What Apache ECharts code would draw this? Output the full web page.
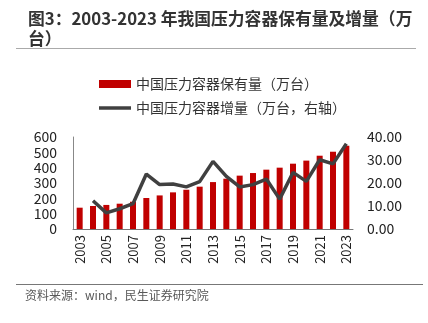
<!DOCTYPE html>
<html><head><meta charset="utf-8">
<script src="https://cdn.jsdelivr.net/npm/echarts@6/dist/echarts.min.js"></script>
<style>html,body{margin:0;padding:0;background:#fff}#c{width:428px;height:323px}</style>
</head><body><div id="c"></div>
<script>
const years = ['2003','2004','2005','2006','2007','2008','2009','2010','2011','2012','2013','2014','2015','2016','2017','2018','2019','2020','2021','2022','2023'];
const stock = [139,150,157,165,178,202,219,239,256,276,306,328,348,365,387,400,426,446,478,504,543];
const increment = [null,12.3,7.0,8.8,11.0,23.9,19.3,19.6,18.3,20.6,29.4,22.9,18.3,19.3,21.7,13.0,24.6,20.7,30.1,28.3,37.1];
const leftTicks = [0,100,200,300,400,500,600];
const rightTicks = [0,10,20,30,40];
const titleText = '图3：2003-2023 年我国压力容器保有量及增量（万\n台）';
const sourceText = '资料来源：wind，民生证券研究院';
const nameStock = '中国压力容器保有量（万台）';
const nameInc = '中国压力容器增量（万台，右轴）';

const font = '"Noto Sans CJK SC", "Noto Sans", sans-serif';
const chart = echarts.init(document.getElementById('c'), null, {renderer:'canvas'});
chart.setOption({
  animation:false,
  textStyle:{fontFamily:font},
  title:{
    text:titleText, left:23, top:4,
    textStyle:{fontSize:16.8, fontWeight:'bold', color:'#333', lineHeight:20, fontFamily:font}
  },
  graphic:[
    {type:'line', shape:{x1:16,y1:48.5,x2:416,y2:48.5}, style:{stroke:'#aaa', lineWidth:1}},
    {type:'line', shape:{x1:16,y1:284.5,x2:423,y2:284.5}, style:{stroke:'#777', lineWidth:1}},
    {type:'text', left:25, top:289, style:{text:sourceText, fontSize:12, fill:'#595959', fontFamily:font}}
  ],
  legend:{
    orient:'vertical', left:94, top:72, itemWidth:32, itemHeight:8, itemGap:10,
    textStyle:{fontSize:14, color:'#333', fontFamily:font},
    data:[{name:nameStock, icon:'rect'},
          {name:nameInc, icon:'path://M0,0 L32,0 L32,3.5 L0,3.5 Z', itemStyle:{color:'#404040'}}]
  },
  grid:{left:73, right:75, top:137, bottom:94},
  xAxis:{
    type:'category', data:years, boundaryGap:true,
    axisLine:{lineStyle:{color:'#777', width:1}},
    axisTick:{show:false},
    axisLabel:{rotate:90, interval:1, fontSize:13, color:'#222', margin:6, fontFamily:font}
  },
  yAxis:[
    {type:'value', min:0, max:600, interval:100,
     axisLine:{show:true, lineStyle:{color:'#888'}}, axisTick:{show:false},
     splitLine:{show:false},
     axisLabel:{fontSize:14, color:'#222', margin:16, fontFamily:font}},
    {type:'value', min:0, max:40, interval:10,
     axisLine:{show:false}, axisTick:{show:false}, splitLine:{show:false},
     axisLabel:{fontSize:14, color:'#222', margin:14, fontFamily:font,
       formatter:v=>v.toFixed(2)}}
  ],
  series:[
    {name:nameStock, type:'bar', data:stock, barWidth:6, itemStyle:{color:'#C00000'}},
    {name:nameInc, type:'line', yAxisIndex:1, data:increment, symbol:'none',
     lineStyle:{color:'#404040', width:3.5}, itemStyle:{color:'#404040'}}
  ]
});
</script></body></html>
